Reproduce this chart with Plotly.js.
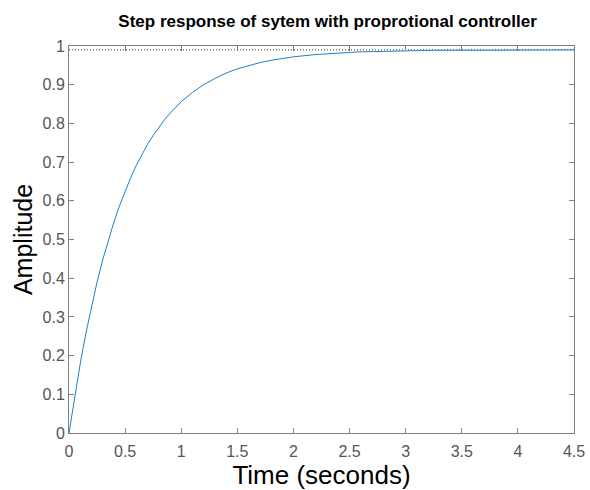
<!DOCTYPE html>
<html>
<head>
<meta charset="utf-8">
<script src="https://cdn.plot.ly/plotly-3.0.1.min.js"></script>
<style>
  html, body { margin: 0; padding: 0; background: #fff; }
  #chart { width: 590px; height: 490px; }
</style>
</head>
<body>
<div id="chart"></div>
<script>
// Closed-loop step response samples (time in seconds, amplitude)
var timeSec = [0, 0.05, 0.10, 0.15, 0.20, 0.25, 0.30, 0.35, 0.40, 0.45,
               0.50, 0.55, 0.60, 0.65, 0.70, 0.75, 0.80, 0.85, 0.90, 0.95,
               1.00, 1.10, 1.20, 1.30, 1.40, 1.50, 1.60, 1.70, 1.80, 1.90,
               2.00, 2.20, 2.40, 2.60, 2.80, 3.00, 3.25, 3.50, 3.75, 4.00,
               4.25, 4.50];
var amplitude = [0, 0.094, 0.179, 0.257, 0.326, 0.390, 0.447, 0.498, 0.545, 0.587,
                 0.626, 0.660, 0.692, 0.720, 0.746, 0.769, 0.790, 0.809, 0.826, 0.842,
                 0.856, 0.880, 0.900, 0.916, 0.930, 0.941, 0.950, 0.957, 0.963, 0.968,
                 0.972, 0.978, 0.982, 0.985, 0.986, 0.988, 0.989, 0.989, 0.989, 0.990,
                 0.990, 0.990];

// Steady-state value marker
var steadyState = 0.99;
var steadyX = [0, 4.5];

var xTicks = [0, 0.5, 1, 1.5, 2, 2.5, 3, 3.5, 4, 4.5];
var xTickLabels = ['0', '0.5', '1', '1.5', '2', '2.5', '3', '3.5', '4', '4.5'];
var yTicks = [0, 0.1, 0.2, 0.3, 0.4, 0.5, 0.6, 0.7, 0.8, 0.9, 1];
var yTickLabels = ['0', '0.1', '0.2', '0.3', '0.4', '0.5', '0.6', '0.7', '0.8', '0.9', '1'];

var fontFamily = '"Liberation Sans", Arial, Helvetica, sans-serif';
var axisGray = '#808080';
var tickText = '#555555';

var traces = [
  {
    x: steadyX,
    y: [steadyState, steadyState],
    mode: 'lines',
    line: { color: '#333333', width: 1, dash: '1px,2px' },
    hoverinfo: 'skip',
    showlegend: false
  },
  {
    x: timeSec,
    y: amplitude,
    mode: 'lines',
    line: { color: '#1f80c8', width: 1 },
    showlegend: false
  }
];

var axisCommon = {
  showgrid: false,
  zeroline: false,
  showline: true,
  linecolor: axisGray,
  linewidth: 1,
  mirror: 'ticks',
  ticks: 'inside',
  ticklen: 5,
  tickwidth: 1,
  tickcolor: axisGray,
  tickfont: { family: fontFamily, size: 16, color: tickText }
};

var layout = {
  width: 590,
  height: 490,
  paper_bgcolor: '#ffffff',
  plot_bgcolor: '#ffffff',
  margin: { l: 69, r: 16, t: 46, b: 57, pad: 0 },
  title: {
    text: '<b>Step response of sytem with proprotional controller</b>',
    font: { family: fontFamily, size: 17, color: '#000000' },
    x: 0.512,
    xref: 'paper',
    xanchor: 'center',
    y: 1,
    yref: 'paper',
    yanchor: 'bottom',
    pad: { b: 19 }
  },
  xaxis: Object.assign({}, axisCommon, {
    range: [0, 4.5],
    tickmode: 'array',
    tickvals: xTicks,
    ticktext: xTickLabels,
    ticklabelstandoff: 4,
    title: { text: 'Time (seconds)', font: { family: fontFamily, size: 26, color: '#000000' }, standoff: 6 }
  }),
  yaxis: Object.assign({}, axisCommon, {
    range: [0, 1],
    tickmode: 'array',
    tickvals: yTicks,
    ticktext: yTickLabels,
    title: { text: 'Amplitude', font: { family: fontFamily, size: 25, color: '#000000' }, standoff: 2 }
  })
};

Plotly.newPlot('chart', traces, layout, { displayModeBar: false, staticPlot: true });
</script>
</body>
</html>
